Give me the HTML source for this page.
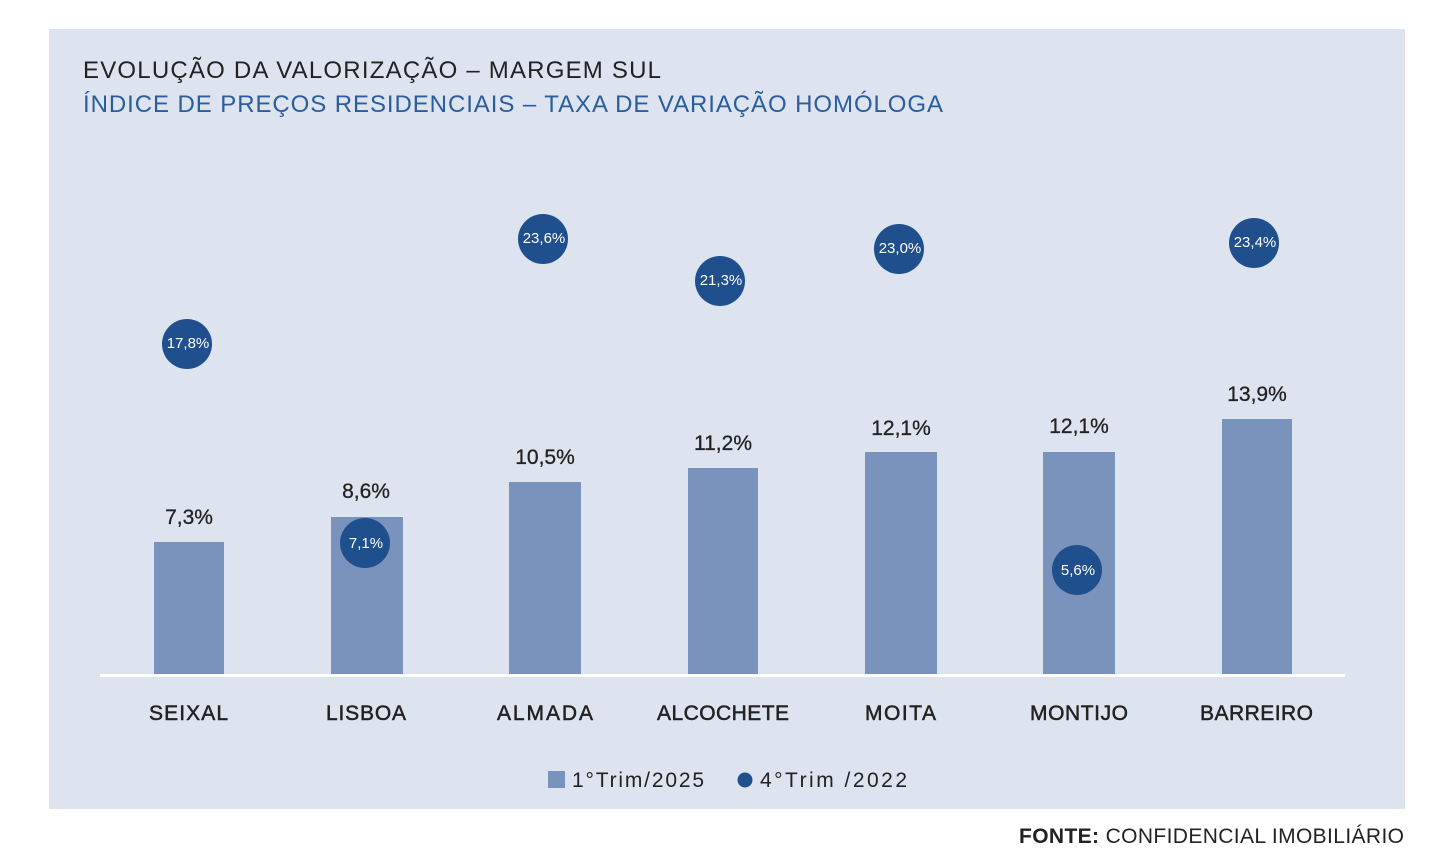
<!DOCTYPE html>
<html><head><meta charset="utf-8"><style>
body{margin:0;width:1442px;height:864px;background:#fff;position:relative;font-family:"Liberation Sans",sans-serif;overflow:hidden}
.panel{position:absolute;left:49px;top:29px;width:1356px;height:780px;background:#dde3ef}
</style></head><body>
<div class="panel"></div>
<svg width="1442" height="864" style="position:absolute;left:0;top:0" font-family="Liberation Sans, sans-serif">
<text x="83" y="78" font-size="24" fill="#222" textLength="578" lengthAdjust="spacing">EVOLUÇÃO DA VALORIZAÇÃO – MARGEM SUL</text>
<text x="83" y="112" font-size="24" fill="#2a5d9c" textLength="860" lengthAdjust="spacing">ÍNDICE DE PREÇOS RESIDENCIAIS – TAXA DE VARIAÇÃO HOMÓLOGA</text>
<g fill="#7a93bd">
<rect x="154" y="542" width="70" height="134"/>
<rect x="331" y="517" width="72" height="159"/>
<rect x="509" y="482" width="72" height="194"/>
<rect x="688" y="468" width="70" height="208"/>
<rect x="865" y="452" width="72" height="224"/>
<rect x="1043" y="452" width="72" height="224"/>
<rect x="1222" y="419" width="70" height="257"/>
</g>
<rect x="100" y="674" width="1245" height="3" fill="#fff"/>
<g font-size="21" fill="#222" text-anchor="middle" stroke="#222" stroke-width="0.3">
<text x="189" y="524">7,3%</text>
<text x="366" y="498">8,6%</text>
<text x="545" y="464">10,5%</text>
<text x="723" y="450">11,2%</text>
<text x="901" y="435">12,1%</text>
<text x="1079" y="433">12,1%</text>
<text x="1257" y="401">13,9%</text>
</g>
<g fill="#1f4f8c">
<circle cx="187" cy="344" r="25"/><circle cx="365" cy="543" r="25"/><circle cx="543" cy="239" r="25"/>
<circle cx="720" cy="281" r="25"/><circle cx="899" cy="249" r="25"/><circle cx="1077" cy="570" r="25"/><circle cx="1254" cy="243" r="25"/>
</g>
<g font-size="15" fill="#fff" text-anchor="middle">
<text x="188" y="348">17,8%</text><text x="366" y="548">7,1%</text><text x="544" y="243">23,6%</text>
<text x="721" y="285">21,3%</text><text x="900" y="253">23,0%</text><text x="1078" y="575">5,6%</text><text x="1255" y="247">23,4%</text>
</g>
<g font-size="21" fill="#222" stroke="#222" stroke-width="0.5">
<text x="149" y="720" textLength="79" lengthAdjust="spacing">SEIXAL</text>
<text x="326" y="720" textLength="80" lengthAdjust="spacing">LISBOA</text>
<text x="497" y="720" textLength="96" lengthAdjust="spacing">ALMADA</text>
<text x="657" y="720" textLength="132" lengthAdjust="spacing">ALCOCHETE</text>
<text x="865" y="720" textLength="71" lengthAdjust="spacing">MOITA</text>
<text x="1030" y="720" textLength="98" lengthAdjust="spacing">MONTIJO</text>
<text x="1200" y="720" textLength="113" lengthAdjust="spacing">BARREIRO</text>
</g>
<rect x="548" y="771" width="17" height="17" fill="#7a93bd"/>
<text x="572" y="787" font-size="21" fill="#222" textLength="132" lengthAdjust="spacing">1°Trim/2025</text>
<circle cx="745" cy="780" r="7.5" fill="#1f4f8c"/>
<text x="760" y="787" font-size="21" fill="#222" textLength="147" lengthAdjust="spacing">4°Trim /2022</text>
<text x="1019" y="843" font-size="21" fill="#222" textLength="385" lengthAdjust="spacing"><tspan font-weight="bold">FONTE:</tspan> CONFIDENCIAL IMOBILIÁRIO</text>
</svg>
</body></html>
